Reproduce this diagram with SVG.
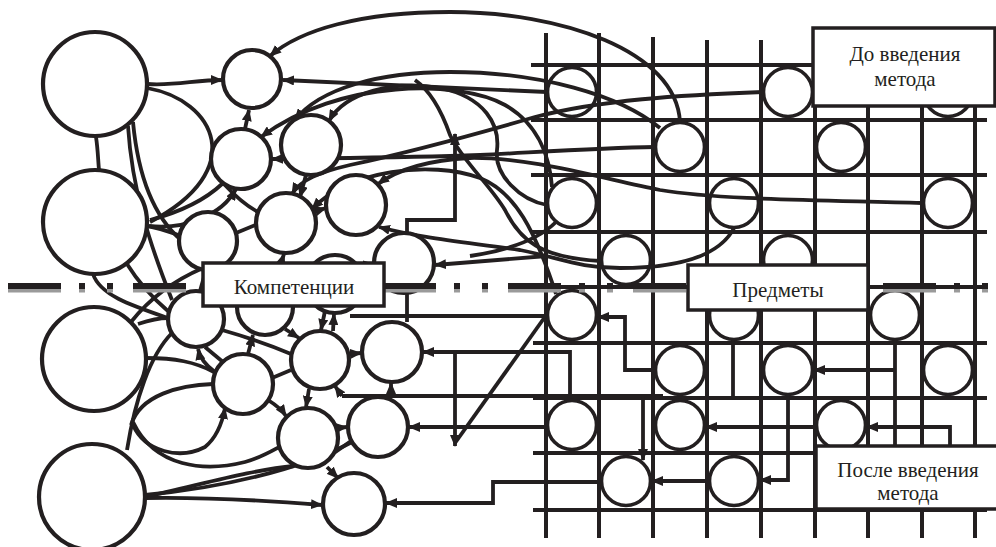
<svg xmlns="http://www.w3.org/2000/svg" width="996" height="547" viewBox="0 0 996 547">
<defs>
<marker id="ah" viewBox="0 0 12 10" refX="11" refY="5" markerWidth="12" markerHeight="10" markerUnits="userSpaceOnUse" orient="auto"><path d="M0,0 L12,5 L0,10 z" fill="#231f20"/></marker>
<style>
.g{stroke:#231f20;stroke-width:4;fill:none}
.c path{stroke:#231f20;stroke-width:3.8;fill:none}
.c path.a{marker-end:url(#ah)}
.n{fill:#fff;stroke:#231f20;stroke-width:4.2}
.s{fill:#fff;stroke:#231f20;stroke-width:3.6}
.b{fill:#fff;stroke:#231f20;stroke-width:3.5}
.t{font-family:"Times New Roman",Times,"Liberation Serif",Tinos,"Noto Serif","DejaVu Serif",FreeSerif,serif;font-size:21px;fill:#231f20;text-anchor:middle}
</style>
</defs>
<rect width="996" height="547" fill="#fff"/>

<g id="grid" class="g">
<path d="M546,33V538M599,33V538M653,37V538M707,40V538M761,40V538M815,40V538M868,40V538M922,40V538M975,40V538"/>
<path d="M531,65H987M531,120H987M531,175H987M531,232H987M531,287H987M533,343H987M533,398H987M533,453H987M533,510H987"/>
</g>

<g id="subjects">
<g id="s1"><circle class="s" cx="572" cy="92" r="24.5"/></g>
<g id="s2"><circle class="s" cx="788" cy="92" r="24.5"/></g>
<g id="s3"><circle class="s" cx="948" cy="92" r="24.5"/></g>
<g id="s4"><circle class="s" cx="680" cy="147" r="24.5"/></g>
<g id="s5"><circle class="s" cx="841" cy="147" r="24.5"/></g>
<g id="s6"><circle class="s" cx="572" cy="203" r="24.5"/></g>
<g id="s7"><circle class="s" cx="734" cy="203" r="24.5"/></g>
<g id="s8"><circle class="s" cx="948" cy="203" r="24.5"/></g>
<g id="s9"><circle class="s" cx="626" cy="260" r="24.5"/></g>
<g id="s10"><circle class="s" cx="788" cy="260" r="24.5"/></g>
<g id="s11"><circle class="s" cx="572" cy="315" r="24.5"/></g>
<g id="s12"><circle class="s" cx="734" cy="315" r="24.5"/></g>
<g id="s13"><circle class="s" cx="895" cy="315" r="24.5"/></g>
<g id="s14"><circle class="s" cx="680" cy="370" r="24.5"/></g>
<g id="s15"><circle class="s" cx="788" cy="370" r="24.5"/></g>
<g id="s16"><circle class="s" cx="948" cy="370" r="24.5"/></g>
<g id="s17"><circle class="s" cx="572" cy="425" r="24.5"/></g>
<g id="s18"><circle class="s" cx="680" cy="425" r="24.5"/></g>
<g id="s19"><circle class="s" cx="841" cy="425" r="24.5"/></g>
<g id="s20"><circle class="s" cx="626" cy="481" r="24.5"/></g>
<g id="s21"><circle class="s" cx="734" cy="481" r="24.5"/></g>
</g>

<g id="connectors" class="c">
<path class="a" d="M147,84 C175,86 195,80 222,80"/>
<path d="M147,88 C215,100 250,170 150,222"/>
<path d="M96,137 C98,150 98,160 99,170"/>
<path d="M133,122 C138,175 152,215 181,240"/>
<path d="M128,126 C132,190 150,245 172,300"/>
<path class="a" d="M149,226 C185,230 222,215 236,189"/>
<path d="M150,220 C180,212 205,200 222,184"/>
<path d="M224,184 C235,196 245,205 258,212"/>
<path d="M236,233 L258,224"/>
<path class="a" d="M245,129 L249,110"/>
<path d="M127,264 C140,285 155,300 169,312"/>
<path d="M93,274 C100,295 130,305 168,318"/>
<path d="M206,270 L200,291"/>
<path d="M228,262 C236,270 244,278 250,284"/>
<path d="M147,226 C160,228 170,232 181,236"/>
<path class="a" d="M275,282 L284,254"/>
<path class="a" d="M357,266 L374,264"/>
<path class="a" d="M313,212 L326,208"/>
<path class="a" d="M306,175 L300,197"/>

<path class="a" d="M680,122 C676,50 560,12 450,12 C360,12 300,30 270,56"/>
<path class="a" d="M547,92 L283,80"/>
<path class="a" d="M655,147 C600,148 540,152 480,155 C400,158 320,158 272,159"/>
<path class="a" d="M552,187 C550,160 540,125 505,105 C460,80 340,78 261,137"/>
<path class="a" d="M547,205 C520,200 494,175 497,150 C500,125 485,97 440,88 C395,80 345,92 329,121"/>
<path class="a" d="M660,128 C620,95 540,72 450,72 C380,72 320,88 295,120"/>
<path class="a" d="M763,92 C680,95 600,100 535,117 C480,133 420,150 350,165 C320,172 300,180 292,194"/>
<path class="a" d="M922,203 C820,200 720,200 660,190 C600,178 530,157 470,158 C430,160 400,168 378,184"/>
<path class="a" d="M556,294 C535,230 515,192 480,178 C430,160 350,170 312,209"/>
<path d="M415,80 C432,92 442,112 450,135 C462,160 490,185 505,210 C520,240 540,258 601,261"/>
<path class="a" d="M407,233 L407,220 L455,220 L455,134"/>
<path class="a" d="M734,228 C720,255 680,268 620,268 C580,268 560,258 520,250 C470,243 420,238 379,227"/>
<path class="a" d="M547,256 L435,265"/>
<path d="M470,256 C510,250 540,238 556,222"/>

<path d="M131,322 C150,298 175,280 203,268"/>
<path d="M127,450 C135,400 150,355 172,333"/>
<path d="M146,358 C175,358 195,362 214,372"/>
<path d="M131,425 C140,395 180,385 213,384"/>
<path class="a" d="M133,425 C145,452 180,460 205,447 C216,438 222,424 225,408"/>
<path d="M133,422 C155,468 205,472 245,462 C260,458 270,452 281,446"/>
<path d="M144,497 C200,485 250,470 294,466"/>
<path class="a" d="M145,498 C200,497 260,500 322,505"/>
<path d="M145,495 C220,488 300,470 352,442"/>
<path d="M222,330 C250,338 270,345 291,354"/>
<path class="a" d="M248,354 L253,335"/>
<path class="a" d="M285,329 L299,338"/>
<path class="a" d="M325,311 L321,330"/>
<path class="a" d="M333,331 L334,314"/>
<path class="a" d="M349,354 L361,353"/>
<path class="a" d="M309,389 L306,407"/>
<path class="a" d="M268,400 C276,405 282,410 286,416"/>
<path class="a" d="M337,428 L347,427"/>
<path d="M351,441 L334,453"/>
<path class="a" d="M327,467 L338,478"/>
<path d="M205,347 L223,362"/>
<path d="M138,324 C150,320 158,318 168,318"/>
<path d="M272,378 L291,370"/>
<path class="a" d="M215,372 C205,365 200,358 198,349"/>

<path d="M547,316 L350,316"/>
<path d="M407,293 L407,322"/>
<path class="a" d="M570,397 L570,352 L423,352"/>
<path d="M663,396 L342,396"/>
<path class="a" d="M342,396 L335,386"/>
<path class="a" d="M391,396 L391,383"/>
<path d="M547,314 L455,443"/>
<path class="a" d="M455,352 L455,446"/>
<path class="a" d="M547,427 L409,427"/>
<path class="a" d="M601,482 L493,482 L493,503 L386,503"/>
<path class="a" d="M655,370 L625,370 L625,317 L598,317"/>
<path class="a" d="M643,397 L643,460"/>
<path class="a" d="M708,481 L652,481"/>
<path class="a" d="M815,427 L706,427"/>
<path class="a" d="M788,395 L788,480 L760,480"/>
<path d="M895,340 L895,446"/>
<path class="a" d="M895,370 L814,370"/>
<path class="a" d="M950,446 L950,427 L867,427"/>
<path d="M733,340 L733,397"/>
</g>

<g id="competences">
<g id="A"><circle class="n" cx="95" cy="84" r="52"/></g>
<g id="B"><circle class="n" cx="95" cy="222" r="52"/></g>
<g id="C"><circle class="n" cx="94" cy="359" r="52"/></g>
<g id="D"><circle class="n" cx="92" cy="497" r="53"/></g>
<g id="c1"><circle class="n" cx="252" cy="79" r="29"/></g>
<g id="c2"><circle class="n" cx="241" cy="159" r="30"/></g>
<g id="c3"><circle class="n" cx="311" cy="145" r="30"/></g>
<g id="c4"><circle class="n" cx="208" cy="241" r="29"/></g>
<g id="c5"><circle class="n" cx="286" cy="223" r="30"/></g>
<g id="c6"><circle class="n" cx="356" cy="205" r="30"/></g>
<g id="c7"><circle class="n" cx="404" cy="263" r="30"/></g>
<g id="c8"><circle class="n" cx="196" cy="319" r="28"/></g>
<g id="c10"><circle class="n" cx="265" cy="307" r="28"/></g>
<g id="c11"><circle class="n" cx="335" cy="284" r="29"/></g>
<g id="c9"><circle class="n" cx="320" cy="360" r="29"/></g>
<g id="c12"><circle class="n" cx="243" cy="384" r="30"/></g>
<g id="c13"><circle class="n" cx="392" cy="352" r="30"/></g>
<g id="c14"><circle class="n" cx="308" cy="438" r="30"/></g>
<g id="c15"><circle class="n" cx="378" cy="427" r="30"/></g>
<g id="c16"><circle class="n" cx="354" cy="504" r="31"/></g>
</g>

<g id="divider" fill="none">
<path d="M8,290.5H996" stroke="#9a9a9a" stroke-width="4" stroke-dasharray="53 18 6 22 6 20"/>
<path d="M8,286H996" stroke="#231f20" stroke-width="6" stroke-dasharray="53 18 6 22 6 20"/>
</g>

<g id="label-before"><rect class="b" x="813" y="28" width="182" height="78"/><text class="t" x="905" y="61">До введения</text><text class="t" x="905" y="86">метода</text></g>
<g id="label-subjects"><rect class="b" x="688" y="265" width="180" height="45"/><text class="t" x="778" y="297">Предметы</text></g>
<g id="label-competences"><rect class="b" x="203" y="263" width="181" height="43"/><text class="t" x="294" y="294">Компетенции</text></g>
<g id="label-after"><rect class="b" x="816" y="446" width="184" height="63"/><text class="t" x="908" y="477">После введения</text><text class="t" x="908" y="500">метода</text></g>
</svg>
